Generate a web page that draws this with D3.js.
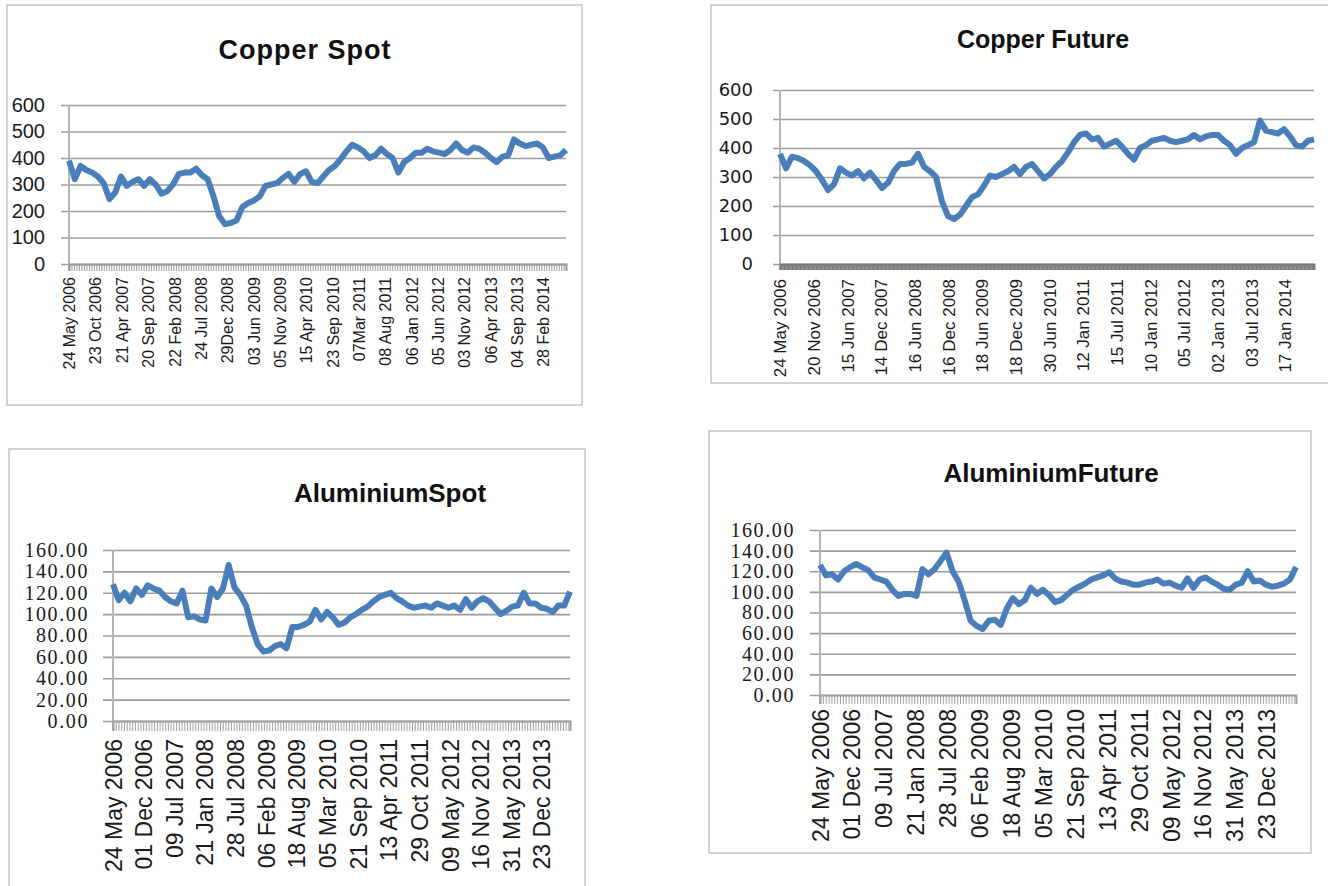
<!DOCTYPE html>
<html>
<head>
<meta charset="utf-8">
<script src="https://cdn.jsdelivr.net/npm/d3@7"></script>
<style>
  body { margin: 0; background: #fff; }
  svg { display: block; }
</style>
</head>
<body>
<svg width="1328" height="886"></svg>
<script>
// values (evenly spaced over the trading days)
var copperSpot = [390,320,370,355,345,330,305,245,270,330,295,310,320,295,320,300,265,275,300,340,
  345,345,360,335,320,255,180,150,155,165,215,230,240,255,295,300,305,325,340,310,
  340,350,310,305,330,355,370,395,425,450,440,425,400,410,435,415,400,345,385,400,
  420,420,435,425,420,415,430,455,430,420,440,435,420,400,385,405,410,470,455,445,
  450,455,440,400,405,410,430];

var copperFuture = [380,330,370,365,355,340,320,290,255,275,330,315,305,320,295,315,290,262,280,320,
  345,345,350,380,335,320,300,215,165,155,170,200,230,240,270,305,300,310,320,335,
  310,335,345,320,295,310,335,355,385,420,445,450,430,435,405,415,425,405,380,360,
  400,410,425,430,435,425,420,425,430,445,430,440,445,445,425,410,380,400,410,420,
  495,460,455,450,465,440,410,405,425,430];

var aluSpot = [128,113,120,112,124,118,127,124,122,116,112,110,122,97,98,95,94,124,116,124,
  146,125,118,108,88,72,65,66,70,72,68,88,88,90,93,104,95,102,97,90,
  92,97,100,104,107,112,116,118,120,115,112,108,106,107,108,106,110,108,106,108,
  104,114,106,112,115,112,106,100,103,107,108,120,110,110,106,105,102,108,108,121];

var aluFuture = [126,116,117,112,120,124,127,124,121,114,112,110,102,96,98,98,96,122,117,122,
  130,138,120,110,92,72,67,64,72,73,68,84,94,88,92,104,98,102,97,90,
  92,97,102,105,108,112,114,116,119,113,110,109,107,107,109,110,112,108,109,106,
  104,113,104,112,114,110,107,103,102,107,109,120,110,111,107,105,106,108,112,124];

var copperSpotDates = ["24 May 2006","23 Oct 2006","21 Apr 2007","20 Sep 2007","22 Feb 2008",
  "24 Jul 2008","29Dec 2008","03 Jun 2009","05 Nov 2009","15 Apr 2010","23 Sep 2010",
  "07Mar 2011","08 Aug 2011","06 Jan 2012","05 Jun 2012","03 Nov 2012","06 Apr 2013",
  "04 Sep 2013","28 Feb 2014"];

var copperFutureDates = ["24 May 2006","20 Nov 2006","15 Jun 2007","14 Dec 2007","16 Jun 2008",
  "16 Dec 2008","18 Jun 2009","18 Dec 2009","30 Jun 2010","12 Jan 2011","15 Jul 2011",
  "10 Jan 2012","05 Jul 2012","02 Jan 2013","03 Jul 2013","17 Jan 2014"];

var aluDates = ["24 May 2006","01 Dec 2006","09 Jul 2007","21 Jan 2008","28 Jul 2008",
  "06 Feb 2009","18 Aug 2009","05 Mar 2010","21 Sep 2010","13 Apr 2011","29 Oct 2011",
  "09 May 2012","16 Nov 2012","31 May 2013","23 Dec 2013"];

var copperTicks = [0,100,200,300,400,500,600];
var aluTicks = [0,20,40,60,80,100,120,140,160];

var nCats = 2000;   // trading days on the category axis

var svg = d3.select("svg");

var panels = [
  { title: "Copper Spot", values: copperSpot, dates: copperSpotDates, every: 106,
    yTicks: copperTicks, fmt: d3.format("d"),
    box: [7, 5, 575, 400], x0: 69, x1: 566, yTop: 105, yBot: 264, tickStart: 61,
    titleX: 305, titleY: 59, titleSize: 27, titleSpacing: 1,
    yFont: "Liberation Sans, Arial, sans-serif", ySize: 20, ySpacing: 0, yPad: 16,
    xSize: 16, xGap: 13, bandH: 7, bandStep: 10, bandColor: "#9a9a9a" },
  { title: "Copper Future", values: copperFuture, dates: copperFutureDates, every: 126,
    yTicks: copperTicks, fmt: d3.format("d"),
    box: [711, 5, 640, 378], x0: 780, x1: 1314, yTop: 90, yBot: 264, tickStart: 773,
    titleX: 1043, titleY: 48, titleSize: 25, titleSpacing: 0,
    yFont: "DejaVu Sans, sans-serif", ySize: 18, ySpacing: 0, yPad: 20,
    xSize: 17, xGap: 15, bandH: 6, bandStep: 3, bandColor: "#7a7a7a" },
  { title: "AluminiumSpot", values: aluSpot, dates: aluDates, every: 134,
    yTicks: aluTicks, fmt: d3.format(".2f"),
    box: [9, 449, 576, 460], x0: 113, x1: 570, yTop: 550, yBot: 721, tickStart: 103,
    titleX: 390, titleY: 502, titleSize: 26, titleSpacing: 0,
    yFont: "Liberation Serif, Times New Roman, serif", ySize: 20, ySpacing: 1.6, yPad: 14,
    xSize: 23, xGap: 18, bandH: 10, bandStep: 12, bandColor: "#a0a0a0" },
  { title: "AluminiumFuture", values: aluFuture, dates: aluDates, every: 134,
    yTicks: aluTicks, fmt: d3.format(".2f"),
    box: [709, 431, 602, 422], x0: 820, x1: 1296, yTop: 530, yBot: 695, tickStart: 810,
    titleX: 1051, titleY: 482, titleSize: 26, titleSpacing: 0,
    yFont: "Liberation Serif, Times New Roman, serif", ySize: 20, ySpacing: 1.6, yPad: 15,
    xSize: 23, xGap: 14, bandH: 9, bandStep: 12, bandColor: "#a0a0a0" }
];

panels.forEach(drawPanel);

function drawPanel(p) {
  var g = svg.append("g");

  // chart border
  g.append("rect")
    .attr("x", p.box[0]).attr("y", p.box[1])
    .attr("width", p.box[2]).attr("height", p.box[3])
    .attr("fill", "none")
    .attr("stroke", "#c4c4c4")
    .attr("stroke-width", 1.5);

  g.append("text")
    .attr("x", p.titleX).attr("y", p.titleY)
    .attr("text-anchor", "middle")
    .style("font-family", "Liberation Sans, Arial, sans-serif")
    .style("font-weight", "bold")
    .style("font-size", p.titleSize + "px")
    .style("letter-spacing", p.titleSpacing + "px")
    .attr("fill", "#111")
    .text(p.title);

  var x = d3.scaleLinear().domain([0, nCats - 1]).range([p.x0, p.x1]);
  var y = d3.scaleLinear().domain([0, p.yTicks[p.yTicks.length - 1]]).range([p.yBot, p.yTop]);

  // gridlines + value labels
  var yAxis = g.append("g")
    .attr("transform", "translate(" + p.tickStart + ",0)")
    .call(d3.axisLeft(y)
      .tickValues(p.yTicks)
      .tickFormat(p.fmt)
      .tickSizeInner(-(p.x1 - p.tickStart))
      .tickSizeOuter(0)
      .tickPadding(p.yPad));
  yAxis.select(".domain").remove();
  yAxis.selectAll("line").attr("stroke", "#9c9c9c").attr("stroke-width", 1.6);
  yAxis.selectAll("text")
    .style("font-family", p.yFont)
    .style("font-size", p.ySize + "px")
    .style("letter-spacing", p.ySpacing + "px")
    .attr("fill", "#1a1a1a");

  // vertical axis line
  g.append("line")
    .attr("x1", p.x0).attr("x2", p.x0)
    .attr("y1", p.yTop).attr("y2", p.yBot + p.bandH)
    .attr("stroke", "#b5b5b5")
    .attr("stroke-width", 2);

  // dense category tick marks
  var band = g.append("g")
    .attr("transform", "translate(0," + p.yBot + ")")
    .call(d3.axisBottom(x)
      .tickValues(d3.range(0, nCats, p.bandStep))
      .tickFormat("")
      .tickSizeOuter(0)
      .tickSize(p.bandH));
  band.select(".domain").attr("stroke", p.bandColor).attr("stroke-width", 2);
  band.selectAll("line").attr("stroke", p.bandColor).attr("stroke-width", 1);

  // date labels
  var xAxis = g.append("g")
    .attr("transform", "translate(0," + p.yBot + ")")
    .call(d3.axisBottom(x)
      .tickValues(p.dates.map(function(d, i) { return i * p.every; }))
      .tickFormat(function(d, i) { return p.dates[i]; })
      .tickSize(0));
  xAxis.select(".domain").remove();
  xAxis.selectAll("text")
    .attr("transform", "rotate(-90)")
    .attr("x", -p.xGap)
    .attr("y", 0)
    .attr("dy", "0.35em")
    .style("text-anchor", "end")
    .style("font-family", "Liberation Sans, Arial, sans-serif")
    .style("font-size", p.xSize + "px")
    .attr("fill", "#1a1a1a");

  var line = d3.line()
    .x(function(d, i) { return x(i * (nCats - 1) / (p.values.length - 1)); })
    .y(function(d) { return y(d); });

  g.append("path")
    .datum(p.values)
    .attr("d", line)
    .attr("fill", "none")
    .attr("stroke", "#4a7ebb")
    .attr("stroke-width", 6)
    .attr("stroke-linejoin", "round");
}
</script>
</body>
</html>
